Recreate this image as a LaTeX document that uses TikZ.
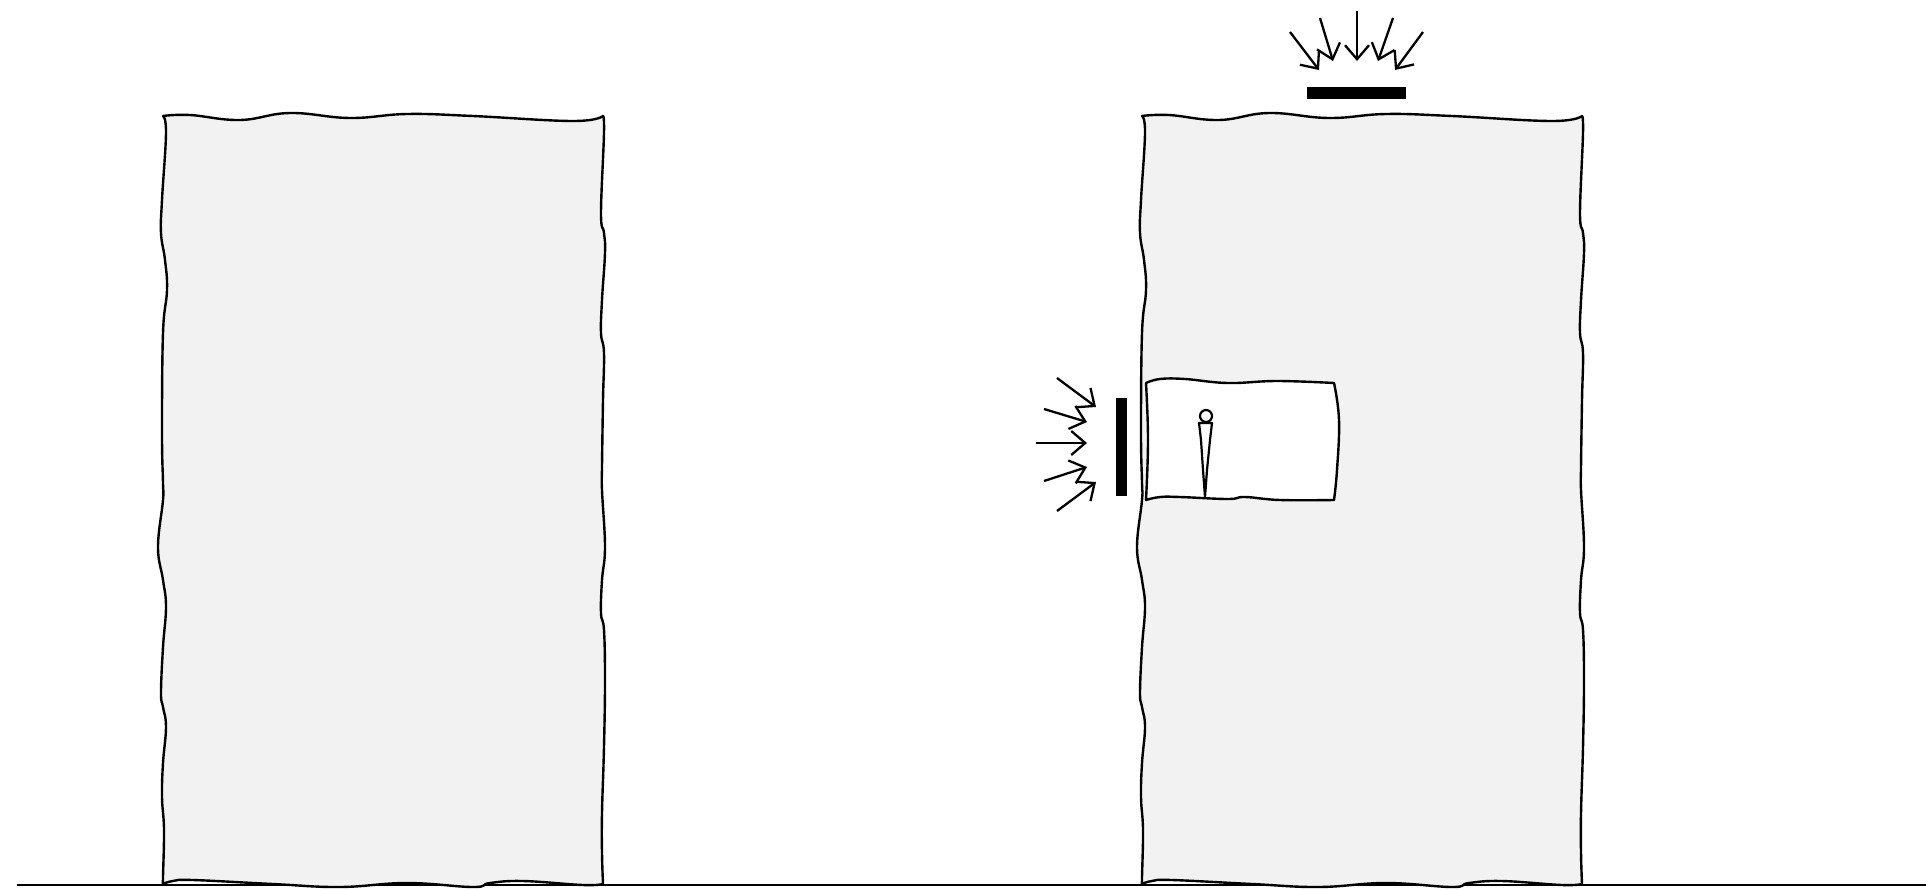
\documentclass[tikz,border=0pt]{standalone}
\usetikzlibrary{arrows.meta}
\definecolor{wallgray}{HTML}{F2F2F2}
\tikzset{
  outline/.style={draw=black,line width=2.4pt,line join=round},
  wall/.style={outline,fill=wallgray},
  ray/.style={draw=black,line width=2.3pt,-{Straight Barb[length=14pt,width=24pt,line width=2.3pt]}},
  shield/.style={fill=black,draw=black,line width=1pt}
}
\newcommand{\wallshape}{(163,116)
 -- plot[smooth,tension=0.7] coordinates {(163,116) (190,115) (240,120) (290,113) (350,118) (407,114) (473,116) (573,121) (603,116)}
 -- plot[smooth,tension=0.7] coordinates {(603,116) (604,133) (601,213) (604,233) (605,253) (602,300) (601,333) (604,353) (603,400) (602,467) (602,490) (605,547) (602,580) (601,613) (604,630) (605,680) (604,747) (602,813) (602,853) (603,884)}
 -- plot[smooth,tension=0.7] coordinates {(603,884) (583,885) (523,881) (490,883) (473,887) (407,883) (340,887) (273,884) (193,880) (173,881) (163,884)}
 -- plot[smooth,tension=0.7] coordinates {(163,884) (163,877) (164,830) (162,797) (163,763) (166,727) (163,707) (161,693) (163,647) (166,607) (163,580) (158,547) (163,500) (163,483) (162,433) (163,333) (167,290) (165,260) (161,233) (162,200) (166,133) (163,116)}
 -- cycle}
\begin{document}
\begin{tikzpicture}[x=1pt,y=-1pt]
\useasboundingbox (0,0) rectangle (1926,889);
% ground
\coordinate (g1) at (17,885);
\coordinate (g2) at (1926,885);
\draw[line width=2pt] (g1) -- (g2);
% walls
\path[wall] \wallshape;
\begin{scope}[xshift=979pt]
\path[wall] \wallshape;
\end{scope}
% inner room
\path[outline,fill=white] (1146,383)
 -- plot[smooth,tension=0.7] coordinates {(1146,383) (1160,379) (1185,379) (1228,383) (1277,381) (1334,383)}
 -- plot[smooth,tension=0.7] coordinates {(1334,383) (1339,420) (1337,470) (1334,500)}
 -- plot[smooth,tension=0.7] coordinates {(1334,500) (1280,500) (1245,497) (1228,499) (1180,497) (1160,497) (1146,500)}
 -- plot[smooth,tension=0.7] coordinates {(1146,500) (1148,440) (1146,383)}
 -- cycle;
% person
\node[draw,circle,line width=2.2pt,minimum size=12pt,inner sep=0pt] (head) at (1206,416) {};
\path[outline,line width=2.2pt,fill=white] (1199,423) -- (1212,423) -- (1210,440) -- (1207,470) -- (1205,497) -- (1203,470) -- (1201,440) -- cycle;
% shields
\node[shield,minimum width=10pt,minimum height=97pt,inner sep=0pt] (sideshield) at (1121.5,447) {};
\node[shield,minimum width=98pt,minimum height=11pt,inner sep=0pt] (topshield) at (1356.5,93) {};
% side rays
\coordinate (s1a) at (1057,378); \coordinate (s1b) at (1096,407);
\coordinate (s2a) at (1044,409); \coordinate (s2b) at (1087,422);
\coordinate (s3a) at (1036,443); \coordinate (s3b) at (1087,443);
\coordinate (s4a) at (1044,481); \coordinate (s4b) at (1087,467);
\coordinate (s5a) at (1057,511); \coordinate (s5b) at (1096,482);
\foreach \i in {1,...,5} \draw[ray] (s\i a) -- (s\i b);
% top rays
\coordinate (t1a) at (1290,32); \coordinate (t1b) at (1319,70);
\coordinate (t2a) at (1320,18); \coordinate (t2b) at (1333,61);
\coordinate (t3a) at (1357,11); \coordinate (t3b) at (1357,61);
\coordinate (t4a) at (1393,18); \coordinate (t4b) at (1378,61);
\coordinate (t5a) at (1423,32); \coordinate (t5b) at (1395,70);
\foreach \i in {1,...,5} \draw[ray] (t\i a) -- (t\i b);
\end{tikzpicture}
\end{document}
